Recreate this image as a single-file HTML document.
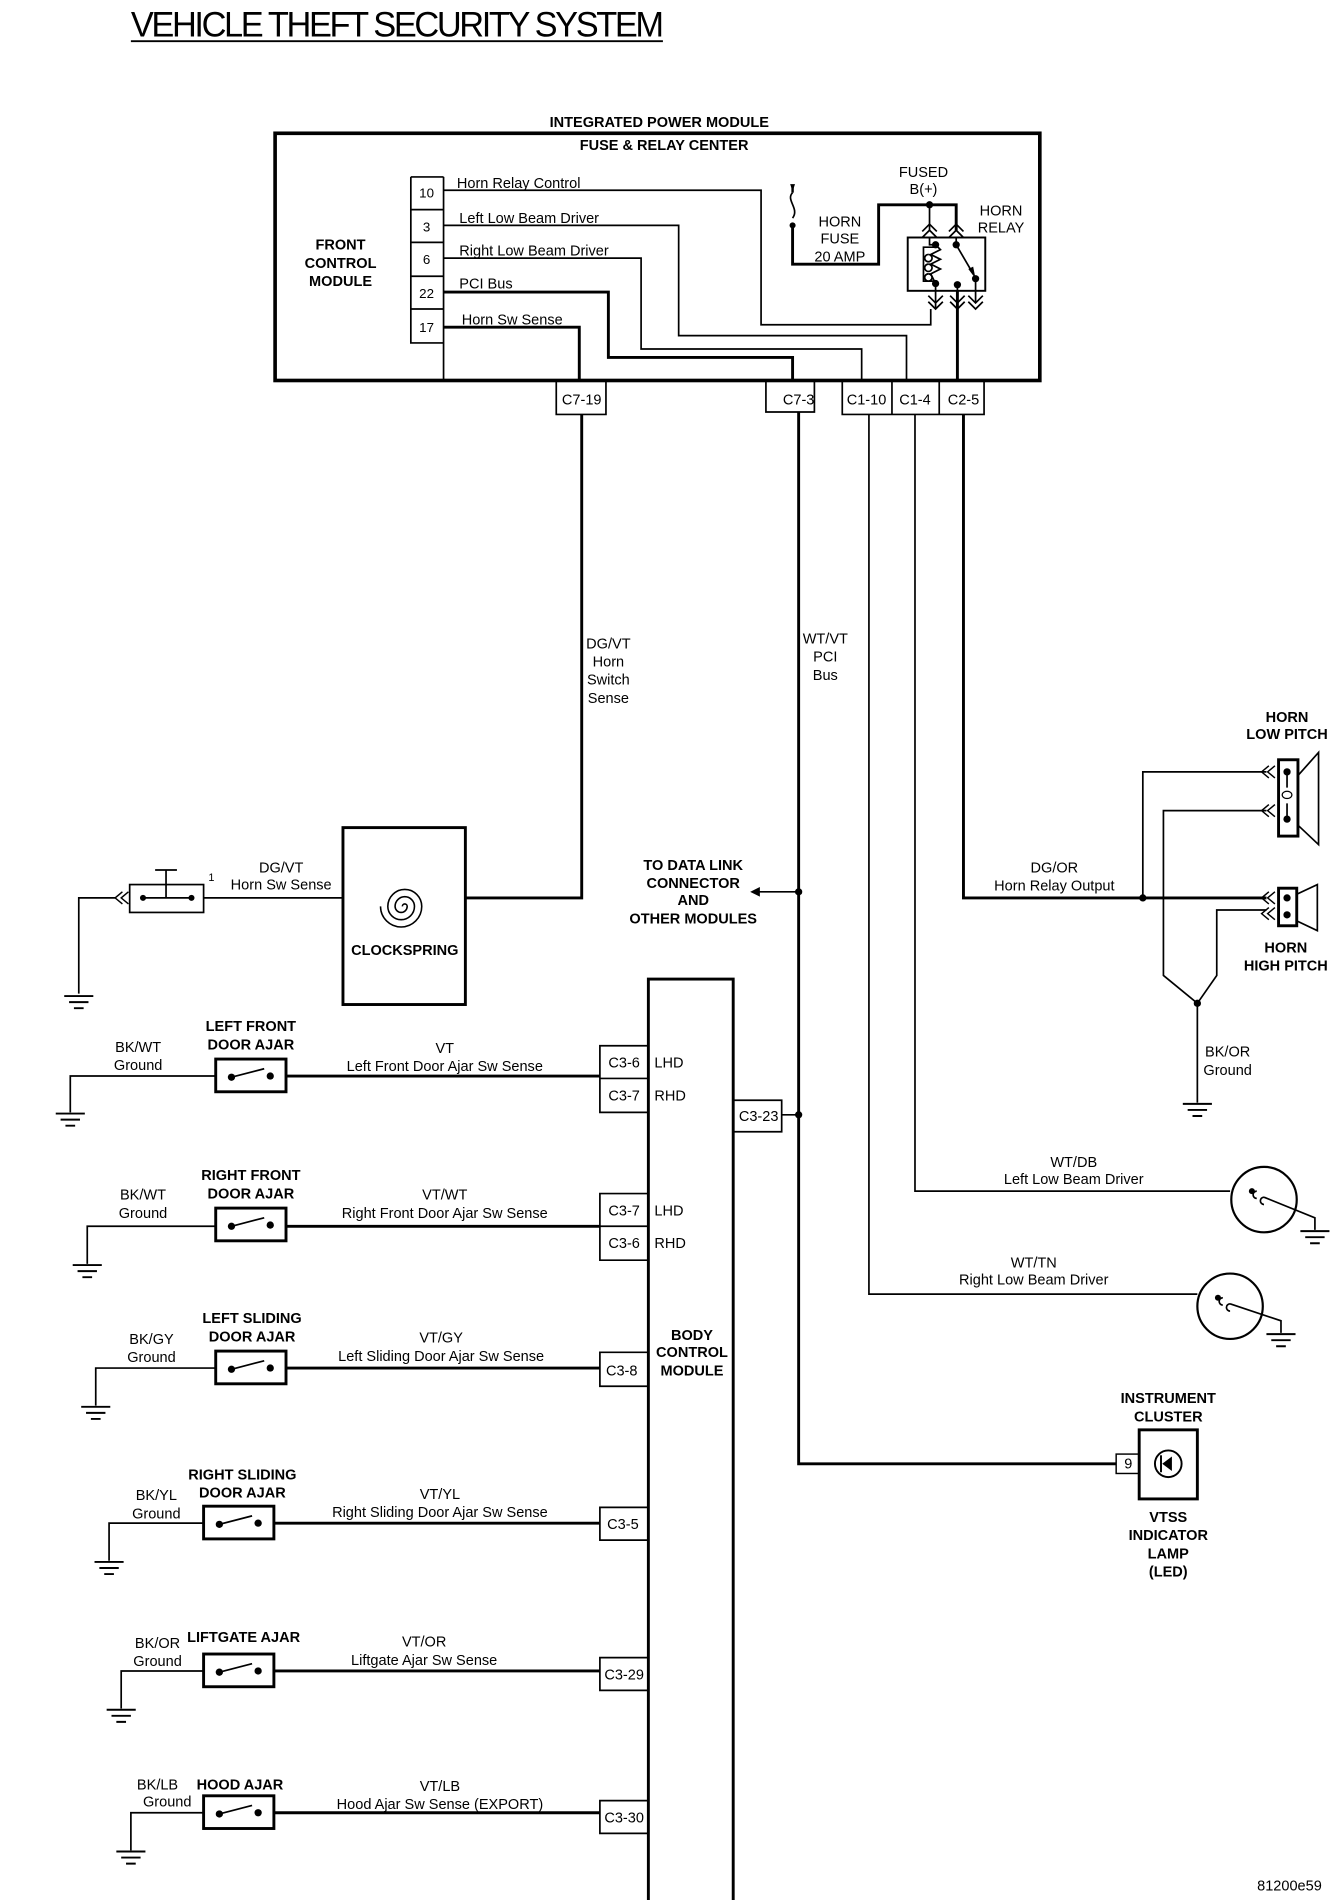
<!DOCTYPE html>
<html><head><meta charset="utf-8"><style>
html,body{margin:0;padding:0;background:#fff;}
svg{display:block;}
text{font-family:"Liberation Sans",sans-serif;font-size:12px;fill:#000;}
.b{font-weight:bold;}
.w{fill:none;stroke:#000;stroke-width:1.4;}
.t{fill:none;stroke:#000;stroke-width:2.4;}
</style></head><body>
<svg width="1344" height="1900" viewBox="0 0 1109 1568" preserveAspectRatio="none" xmlns="http://www.w3.org/2000/svg">
<defs>
<g id="gnd"><path d="M-12 0H12M-8 5H8M-4 10H4" stroke="#000" stroke-width="1.6" fill="none"/></g>
<g id="sw"><rect x="0" y="0" width="58" height="27" fill="#fff" stroke="#000" stroke-width="2.4"/><circle cx="13" cy="15" r="3" fill="#000"/><circle cx="45" cy="14" r="3" fill="#000"/><path d="M13 15L40 8" stroke="#000" stroke-width="1.4"/></g>
<g id="chl"><path d="M8 -5L2 0L8 5M13 -5L7 0L13 5" stroke="#000" stroke-width="1.2" fill="none"/></g>
</defs>

<text x="108" y="30" style="font-size:29px;letter-spacing:-2px" textLength="438" lengthAdjust="spacingAndGlyphs">VEHICLE THEFT SECURITY SYSTEM</text>
<path d="M108 34H547" stroke="#000" stroke-width="1.5"/>

<text class="b" x="544" y="105" text-anchor="middle">INTEGRATED POWER MODULE</text>
<text class="b" x="548" y="124" text-anchor="middle">FUSE &amp; RELAY CENTER</text>
<rect x="227" y="110" width="631" height="204" fill="none" stroke="#000" stroke-width="3"/>
<text class="b" x="281" y="206" text-anchor="middle">FRONT</text>
<text class="b" x="281" y="221" text-anchor="middle">CONTROL</text>
<text class="b" x="281" y="236" text-anchor="middle">MODULE</text>
<path class="w" d="M366 146V314M339 146H366M339 146V283H366M339 173H366M339 200H366M339 228H366M339 255H366"/>
<text x="352" y="163" text-anchor="middle" style="font-size:11px">10</text>
<text x="352" y="191" text-anchor="middle" style="font-size:11px">3</text>
<text x="352" y="218" text-anchor="middle" style="font-size:11px">6</text>
<text x="352" y="246" text-anchor="middle" style="font-size:11px">22</text>
<text x="352" y="274" text-anchor="middle" style="font-size:11px">17</text>
<text x="377" y="155">Horn Relay Control</text>
<text x="379" y="184">Left Low Beam Driver</text>
<text x="379" y="211">Right Low Beam Driver</text>
<text x="379" y="238">PCI Bus</text>
<text x="381" y="268">Horn Sw Sense</text>
<path class="w" d="M366 157H628V268H768V255"/>
<path class="w" d="M366 186H560V277H748V314"/>
<path class="w" d="M366 213H529V288H711V314"/>
<path class="t" d="M366 241H502V295H654V314"/>
<path class="t" d="M366 270H478V314"/>

<path d="M654 154V159" stroke="#000" stroke-width="2"/>
<path d="M652 152L656 152L654 158Z" fill="#000"/>
<path class="w" d="M654 159C648 165 660 172 654 180"/>
<circle cx="654" cy="186" r="2.5" fill="#000"/>
<path class="t" d="M654 186V218H725V169H789V190"/>
<circle cx="767" cy="169" r="3" fill="#000"/>
<path class="w" d="M767 169V190"/>
<text x="762" y="146" text-anchor="middle">FUSED</text>
<text x="762" y="160" text-anchor="middle">B(+)</text>
<text x="693" y="187" text-anchor="middle">HORN</text>
<text x="693" y="201" text-anchor="middle">FUSE</text>
<text x="693" y="216" text-anchor="middle">20 AMP</text>
<text x="826" y="178" text-anchor="middle">HORN</text>
<text x="826" y="192" text-anchor="middle">RELAY</text>
<path class="w" d="M761 191L767 185L773 191M761 196L767 190L773 196M783 191L789 185L795 191M783 196L789 190L795 196"/>
<rect x="749" y="196" width="64" height="44" fill="none" stroke="#000" stroke-width="1.6"/>
<circle cx="772" cy="202" r="3" fill="#000"/><circle cx="772" cy="234" r="3" fill="#000"/>
<circle cx="789" cy="202" r="3" fill="#000"/><circle cx="790" cy="235" r="3" fill="#000"/>
<circle cx="805" cy="230" r="3" fill="#000"/>
<path class="w" d="M767 196V202H772M772 202L776 206L768 210L776 214L768 218L776 222L768 226L772 234"/>
<path class="w" d="M772 204H762V232H772M766 210a3 3 0 1 0 0.1 0M766 218a3 3 0 1 0 0.1 0M766 226a3 3 0 1 0 0.1 0"/>
<path class="w" d="M789 202L803 226"/><path d="M799 222L805 230L803 220Z" fill="#000"/>
<path class="w" d="M789 196V202M805 230V240M790 235V240M772 234V240"/>
<path class="w" d="M766 244L772 250L778 244M766 249L772 255L778 249M784 244L790 250L796 244M784 249L790 255L796 249M799 244L805 250L811 244M799 249L805 255L811 249"/>
<path class="w" d="M772 240V255M805 240V250"/>
<path class="t" d="M790 240V314"/>

<path class="w" d="M459 314V342H500V314"/><text x="480" y="334" text-anchor="middle">C7-19</text>
<path class="w" d="M632 314V340H672V314"/><text x="659" y="334" text-anchor="middle">C7-3</text>
<path class="w" d="M695 314V342H812V314M736 314V342M775 314V342"/>
<text x="715" y="334" text-anchor="middle">C1-10</text>
<text x="755" y="334" text-anchor="middle">C1-4</text>
<text x="795" y="334" text-anchor="middle">C2-5</text>

<path class="t" d="M480 342V741H384"/>
<text x="502" y="535" text-anchor="middle">DG/VT</text>
<text x="502" y="550" text-anchor="middle">Horn</text>
<text x="502" y="565" text-anchor="middle">Switch</text>
<text x="502" y="580" text-anchor="middle">Sense</text>
<rect x="283" y="683" width="101" height="146" fill="none" stroke="#000" stroke-width="2.4"/>
<g fill="none" stroke="#000" stroke-width="1.3">
<path d="M334 748m-2 0a2 2 0 1 1 4 0a5 5 0 1 1 -10 0a8 8 0 1 1 16 0a11 11 0 1 1 -22 0a14 14 0 1 1 28 0a17 17 0 1 1 -34 0"/>
</g>
<text class="b" x="334" y="788" text-anchor="middle">CLOCKSPRING</text>
<path class="w" d="M283 741H168"/>
<text x="232" y="720" text-anchor="middle">DG/VT</text>
<text x="232" y="734" text-anchor="middle">Horn Sw Sense</text>
<rect x="107" y="730" width="61" height="23" fill="none" stroke="#000" stroke-width="1.4"/>
<path class="w" d="M118 741H158M137 741V718M128 718H146"/>
<circle cx="118" cy="741" r="2.5" fill="#000"/><circle cx="158" cy="741" r="2.5" fill="#000"/>
<text x="172" y="727" style="font-size:9px">1</text>
<use href="#chl" x="93" y="741"/>
<path class="w" d="M95 741H65V820"/>
<use href="#gnd" x="65" y="822"/>

<path class="t" d="M659 340V1208H921"/>
<text x="681" y="531" text-anchor="middle">WT/VT</text>
<text x="681" y="546" text-anchor="middle">PCI</text>
<text x="681" y="561" text-anchor="middle">Bus</text>
<circle cx="659" cy="736" r="3" fill="#000"/>
<path class="w" d="M659 736H624"/><path d="M619 736L627 732L627 740Z" fill="#000"/>
<text class="b" x="572" y="718" text-anchor="middle">TO DATA LINK</text>
<text class="b" x="572" y="733" text-anchor="middle">CONNECTOR</text>
<text class="b" x="572" y="747" text-anchor="middle">AND</text>
<text class="b" x="572" y="762" text-anchor="middle">OTHER MODULES</text>
<circle cx="659" cy="920" r="3" fill="#000"/>
<path class="w" d="M659 920H645"/>

<rect x="535" y="808" width="70" height="780" fill="none" stroke="#000" stroke-width="2.4"/>
<path class="w" d="M605 908H645V934H605"/><text x="626" y="925" text-anchor="middle">C3-23</text>
<text class="b" x="571" y="1106" text-anchor="middle">BODY</text>
<text class="b" x="571" y="1120" text-anchor="middle">CONTROL</text>
<text class="b" x="571" y="1135" text-anchor="middle">MODULE</text>

<path class="w" d="M535 863H495V918H535M495 890H535"/>
<text x="515" y="881" text-anchor="middle">C3-6</text><text x="515" y="908" text-anchor="middle">C3-7</text>
<text x="540" y="881">LHD</text><text x="540" y="908">RHD</text>
<path class="t" d="M236 888H495"/>
<use href="#sw" x="178" y="874"/>
<path class="w" d="M178 888H58V918"/><use href="#gnd" x="58" y="919"/>
<text x="114" y="868" text-anchor="middle">BK/WT</text><text x="114" y="883" text-anchor="middle">Ground</text>
<text class="b" x="207" y="851" text-anchor="middle">LEFT FRONT</text><text class="b" x="207" y="866" text-anchor="middle">DOOR AJAR</text>
<text x="367" y="869" text-anchor="middle">VT</text><text x="367" y="884" text-anchor="middle">Left Front Door Ajar Sw Sense</text>

<path class="w" d="M535 985H495V1040H535M495 1012H535"/>
<text x="515" y="1003" text-anchor="middle">C3-7</text><text x="515" y="1030" text-anchor="middle">C3-6</text>
<text x="540" y="1003">LHD</text><text x="540" y="1030">RHD</text>
<path class="t" d="M236 1012H495"/>
<use href="#sw" x="178" y="997"/>
<path class="w" d="M178 1012H72V1043"/><use href="#gnd" x="72" y="1044"/>
<text x="118" y="990" text-anchor="middle">BK/WT</text><text x="118" y="1005" text-anchor="middle">Ground</text>
<text class="b" x="207" y="974" text-anchor="middle">RIGHT FRONT</text><text class="b" x="207" y="989" text-anchor="middle">DOOR AJAR</text>
<text x="367" y="990" text-anchor="middle">VT/WT</text><text x="367" y="1005" text-anchor="middle">Right Front Door Ajar Sw Sense</text>

<path class="w" d="M535 1116H495V1144H535"/>
<text x="513" y="1135" text-anchor="middle">C3-8</text>
<path class="t" d="M236 1129H495"/>
<use href="#sw" x="178" y="1115"/>
<path class="w" d="M178 1129H79V1160"/><use href="#gnd" x="79" y="1161"/>
<text x="125" y="1109" text-anchor="middle">BK/GY</text><text x="125" y="1124" text-anchor="middle">Ground</text>
<text class="b" x="208" y="1092" text-anchor="middle">LEFT SLIDING</text><text class="b" x="208" y="1107" text-anchor="middle">DOOR AJAR</text>
<text x="364" y="1108" text-anchor="middle">VT/GY</text><text x="364" y="1123" text-anchor="middle">Left Sliding Door Ajar Sw Sense</text>

<path class="w" d="M535 1244H495V1271H535"/>
<text x="514" y="1262" text-anchor="middle">C3-5</text>
<path class="t" d="M225 1257H495"/>
<use href="#sw" x="168" y="1243"/>
<path class="w" d="M168 1257H90V1288"/><use href="#gnd" x="90" y="1289"/>
<text x="129" y="1238" text-anchor="middle">BK/YL</text><text x="129" y="1253" text-anchor="middle">Ground</text>
<text class="b" x="200" y="1221" text-anchor="middle">RIGHT SLIDING</text><text class="b" x="200" y="1236" text-anchor="middle">DOOR AJAR</text>
<text x="363" y="1237" text-anchor="middle">VT/YL</text><text x="363" y="1252" text-anchor="middle">Right Sliding Door Ajar Sw Sense</text>

<path class="w" d="M535 1368H495V1395H535"/>
<text x="515" y="1386" text-anchor="middle">C3-29</text>
<path class="t" d="M225 1379H495"/>
<use href="#sw" x="168" y="1365"/>
<path class="w" d="M168 1379H100V1410"/><use href="#gnd" x="100" y="1411"/>
<text x="130" y="1360" text-anchor="middle">BK/OR</text><text x="130" y="1375" text-anchor="middle">Ground</text>
<text class="b" x="201" y="1355" text-anchor="middle">LIFTGATE AJAR</text>
<text x="350" y="1359" text-anchor="middle">VT/OR</text><text x="350" y="1374" text-anchor="middle">Liftgate Ajar Sw Sense</text>

<path class="w" d="M535 1486H495V1513H535"/>
<text x="515" y="1504" text-anchor="middle">C3-30</text>
<path class="t" d="M225 1496H495"/>
<use href="#sw" x="168" y="1482"/>
<path class="w" d="M168 1496H108V1527"/><use href="#gnd" x="108" y="1528"/>
<text x="130" y="1477" text-anchor="middle">BK/LB</text><text x="138" y="1491" text-anchor="middle">Ground</text>
<text class="b" x="198" y="1477" text-anchor="middle">HOOD AJAR</text>
<text x="363" y="1478" text-anchor="middle">VT/LB</text><text x="363" y="1493" text-anchor="middle">Hood Ajar Sw Sense (EXPORT)</text>

<path class="t" d="M795 342V741H1045"/>
<text x="870" y="720" text-anchor="middle">DG/OR</text>
<text x="870" y="735" text-anchor="middle">Horn Relay Output</text>
<circle cx="943" cy="741" r="3" fill="#000"/>
<path class="w" d="M943 741V637H1045"/>
<path class="w" d="M1045 669H960V805L988 828L1004 805V751H1045"/>
<circle cx="988" cy="828" r="3" fill="#000"/>
<path class="w" d="M988 828V910"/><use href="#gnd" x="988" y="911"/>
<text x="1013" y="872" text-anchor="middle">BK/OR</text><text x="1013" y="887" text-anchor="middle">Ground</text>
<text class="b" x="1062" y="596" text-anchor="middle">HORN</text>
<text class="b" x="1062" y="610" text-anchor="middle">LOW PITCH</text>
<rect x="1055" y="627" width="16" height="63" fill="none" stroke="#000" stroke-width="2.4"/>
<path class="w" d="M1071 640L1088 621V697L1071 681"/>
<use href="#chl" x="1039" y="637"/><use href="#chl" x="1039" y="669"/>
<circle cx="1062" cy="637" r="3" fill="#000"/><circle cx="1062" cy="676" r="3" fill="#000"/>
<path class="w" d="M1062 637V650M1062 663V676"/><ellipse cx="1062" cy="656" rx="4" ry="3" fill="none" stroke="#000" stroke-width="1"/>
<rect x="1055" y="733" width="15" height="31" fill="none" stroke="#000" stroke-width="2.4"/>
<path class="w" d="M1070 738L1087 730V768L1070 760"/>
<use href="#chl" x="1039" y="741"/><use href="#chl" x="1039" y="754"/>
<circle cx="1062" cy="741" r="3" fill="#000"/><circle cx="1062" cy="755" r="3" fill="#000"/>
<text class="b" x="1061" y="786" text-anchor="middle">HORN</text>
<text class="b" x="1061" y="801" text-anchor="middle">HIGH PITCH</text>

<path class="w" d="M755 342V983H1015"/>
<text x="886" y="963" text-anchor="middle">WT/DB</text>
<text x="886" y="977" text-anchor="middle">Left Low Beam Driver</text>
<circle cx="1043" cy="990" r="27" fill="none" stroke="#000" stroke-width="1.8"/>
<path class="w" d="M1037 983a3 3 0 1 0 0 6M1043 988a3 3 0 1 0 0 6M1043 988L1085 1005V1015"/>
<use href="#gnd" x="1085" y="1016"/>
<circle cx="1033" cy="983" r="2.5" fill="#000"/>
<path class="w" d="M717 342V1068H988"/>
<text x="853" y="1046" text-anchor="middle">WT/TN</text>
<text x="853" y="1060" text-anchor="middle">Right Low Beam Driver</text>
<circle cx="1015" cy="1078" r="27" fill="none" stroke="#000" stroke-width="1.8"/>
<path class="w" d="M1009 1071a3 3 0 1 0 0 6M1015 1076a3 3 0 1 0 0 6M1015 1076L1057 1090V1100"/>
<use href="#gnd" x="1057" y="1101"/>
<circle cx="1005" cy="1071" r="2.5" fill="#000"/>

<text class="b" x="964" y="1158" text-anchor="middle">INSTRUMENT</text>
<text class="b" x="964" y="1173" text-anchor="middle">CLUSTER</text>
<rect x="921" y="1200" width="19" height="16" fill="none" stroke="#000" stroke-width="1.2"/>
<text x="931" y="1212" text-anchor="middle">9</text>
<rect x="940" y="1180" width="48" height="57" fill="none" stroke="#000" stroke-width="2.4"/>
<circle cx="964" cy="1208" r="11" fill="none" stroke="#000" stroke-width="1.6"/>
<path d="M959 1208L967 1202V1214Z" fill="#000"/><path d="M958 1201V1215" stroke="#000" stroke-width="1.6"/>
<text class="b" x="964" y="1256" text-anchor="middle">VTSS</text>
<text class="b" x="964" y="1271" text-anchor="middle">INDICATOR</text>
<text class="b" x="964" y="1286" text-anchor="middle">LAMP</text>
<text class="b" x="964" y="1301" text-anchor="middle">(LED)</text>

<text x="1064" y="1560" text-anchor="middle">81200e59</text>
</svg>
</body></html>
